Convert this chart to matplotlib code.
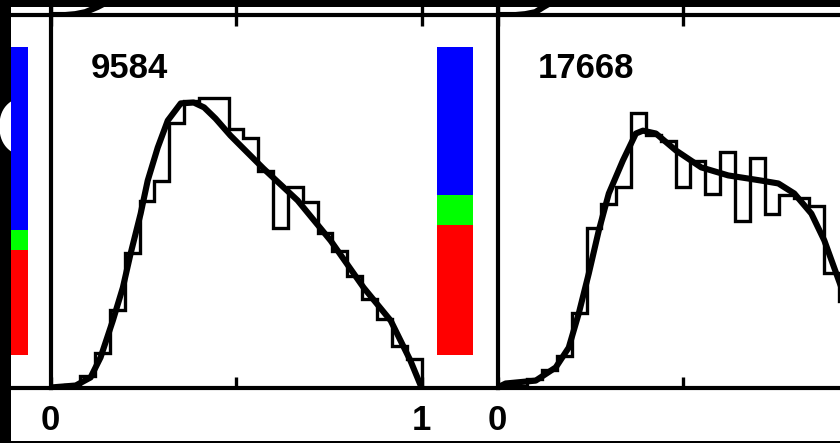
import numpy as np
import matplotlib
matplotlib.use('Agg')
import matplotlib.pyplot as plt
from matplotlib.patches import Rectangle

######## DATA
# 25 equal bins over [0, 1] in every panel
nBins = 25

# left panel
left_label = '9584'
left_curve_x = [0.0, 0.068, 0.108, 0.135, 0.168, 0.195, 0.216, 0.243, 0.262, 0.289, 0.316,
                0.351, 0.386, 0.414, 0.445, 0.485, 0.512, 0.574, 0.666, 0.755, 0.844, 0.917, 0.970, 1.0]
left_curve_y = [0.0, 0.007, 0.035, 0.105, 0.233, 0.348, 0.467, 0.606, 0.721, 0.836, 0.930,
                0.990, 0.993, 0.976, 0.937, 0.878, 0.843, 0.763, 0.652, 0.512, 0.348, 0.233, 0.094, 0.0]
left_hist = [0.0, 0.01, 0.04, 0.12, 0.27, 0.47, 0.65, 0.72, 0.92, 1.0, 1.01, 1.01, 0.90,
             0.87, 0.756, 0.557, 0.697, 0.645, 0.54, 0.477, 0.39, 0.31, 0.24, 0.146, 0.10]

# right panel
right_label = '17668'
right_curve_x = [0.0, 0.022, 0.103, 0.157, 0.192, 0.219, 0.246, 0.273, 0.300, 0.338, 0.373,
                 0.392, 0.427, 0.481, 0.549, 0.622, 0.711, 0.757, 0.800, 0.846, 0.881, 0.927, 0.981, 1.0]
right_curve_y = [0.0, 0.014, 0.024, 0.070, 0.139, 0.258, 0.397, 0.547, 0.676, 0.791, 0.885,
                 0.895, 0.885, 0.826, 0.767, 0.739, 0.721, 0.711, 0.676, 0.606, 0.512, 0.348, 0.146, 0.0]
right_hist = [0.0, 0.005, 0.03, 0.06, 0.11, 0.258, 0.557, 0.64, 0.70, 0.955, 0.88, 0.86, 0.697,
              0.79, 0.676, 0.82, 0.58, 0.80, 0.606, 0.67, 0.66, 0.634, 0.40, 0.30, 0.10]

# tails of the panels in the row above
upper_left_x = [0.0, 0.04, 0.067, 0.094, 0.127, 0.148]
upper_left_y = [0.0, 0.0, 0.003, 0.01, 0.028, 0.042]
upper_right_x = [0.0, 0.049, 0.075, 0.102, 0.124, 0.143]
upper_right_y = [0.0, 0.0, 0.003, 0.01, 0.028, 0.042]

# colour bars: red, green, blue fractions (bottom to top)
bar_colors = ['#ff0000', '#00ff00', '#0000ff']
bar_left = [0.341, 0.065, 0.594]
bar_mid = [0.422, 0.097, 0.481]

xtick_vals = [0, 0.5, 1]
left_tick_labels = ['0', '', '1']
right_tick_labels = ['0', '', '']
#####################

W, H = 840, 443
font = 'Liberation Sans'
# each panel box runs past x = 1 up to the next panel's y axis
xmax = 447.0 / 371.0
ymax = 1.298

fig = plt.figure(figsize=(W / 100, H / 100), dpi=100, facecolor='black')


## add axes from pixel box (x0, top, x1, bottom)
def pxAxes(x0, top, x1, bottom):
    ax = fig.add_axes([x0 / W, 1 - bottom / H, (x1 - x0) / W, (bottom - top) / H])
    ax.set_zorder(2)
    ax.patch.set_visible(False)
    return ax


## bare frame of a panel
def styleFrame(ax, spines):
    ax.set_xlim(0, xmax)
    ax.set_ylim(0, ymax)
    for s in ['left', 'bottom', 'top', 'right']:
        if s in spines:
            ax.spines[s].set_linewidth(3.0)
        else:
            ax.spines[s].set_visible(False)
    ax.set_yticks([])


## one distribution panel with smooth curve and histogram
def plotPanel(ax, cx, cy, hist, label, ticklabels):
    edges = np.linspace(0, 1, nBins + 1)
    ax.stairs(hist, edges, baseline=0, color='black', lw=2.4)
    ax.plot(cx, cy, color='black', lw=4.4, solid_capstyle='round', solid_joinstyle='round')
    styleFrame(ax, ['left', 'bottom', 'top'])
    ax.set_xticks(xtick_vals, ticklabels, fontfamily=font, fontweight='bold', fontsize=25)
    ax.tick_params(axis='x', direction='in', length=8, width=2.4, top=True, pad=12)
    ax.text(0.108, 1.077, label, fontfamily=font, fontweight='bold', fontsize=25,
            ha='left', va='baseline')


## tail of the panel above
def plotUpper(ax, cx, cy):
    ax.plot(cx, cy, color='black', lw=4.4)
    styleFrame(ax, ['left'])
    ax.set_xticks(xtick_vals, ['', '', ''])
    ax.tick_params(axis='x', direction='in', length=8, width=2.4)


## stacked colour bar
def plotBar(ax, fractions):
    bottom = 0
    for f, c in zip(fractions, bar_colors):
        ax.bar(0.5, f, width=1, bottom=bottom, color=c)
        bottom += f
    ax.set_xlim(0, 1)
    ax.set_ylim(0, 1)
    ax.axis('off')


# white page area over the black frame
fig.add_artist(Rectangle((11 / W, 1 - 441 / H), (W - 11) / W, 434 / H,
                         transform=fig.transFigure, facecolor='white', edgecolor='none', zorder=1))
# part of a letter on the black margin
fig.text(-4 / W, 1 - 133 / H, 'O', color='white', fontsize=60, fontweight='bold',
         fontfamily=font, ha='left', va='center', zorder=0.5)

# previous panel on the left, only its frame shows
axP = pxAxes(-396.5, 15, 50.5, 387.5)
styleFrame(axP, ['bottom', 'top'])
axP.set_xticks([])

axL = pxAxes(50.5, 15, 497.5, 387.5)
plotPanel(axL, left_curve_x, left_curve_y, left_hist, left_label, left_tick_labels)
axR = pxAxes(497.5, 15, 944.5, 387.5)
plotPanel(axR, right_curve_x, right_curve_y, right_hist, right_label, right_tick_labels)

axUL = pxAxes(50.5, -357.5, 497.5, 15)
plotUpper(axUL, upper_left_x, upper_left_y)
axUR = pxAxes(497.5, -357.5, 944.5, 15)
plotUpper(axUR, upper_right_x, upper_right_y)

# keep the black margin over the cut colour bar
plotBar(pxAxes(11, 47, 28, 355), bar_left)
plotBar(pxAxes(437, 47, 473, 355), bar_mid)

plt.savefig('out.png', dpi=100, facecolor='black')
